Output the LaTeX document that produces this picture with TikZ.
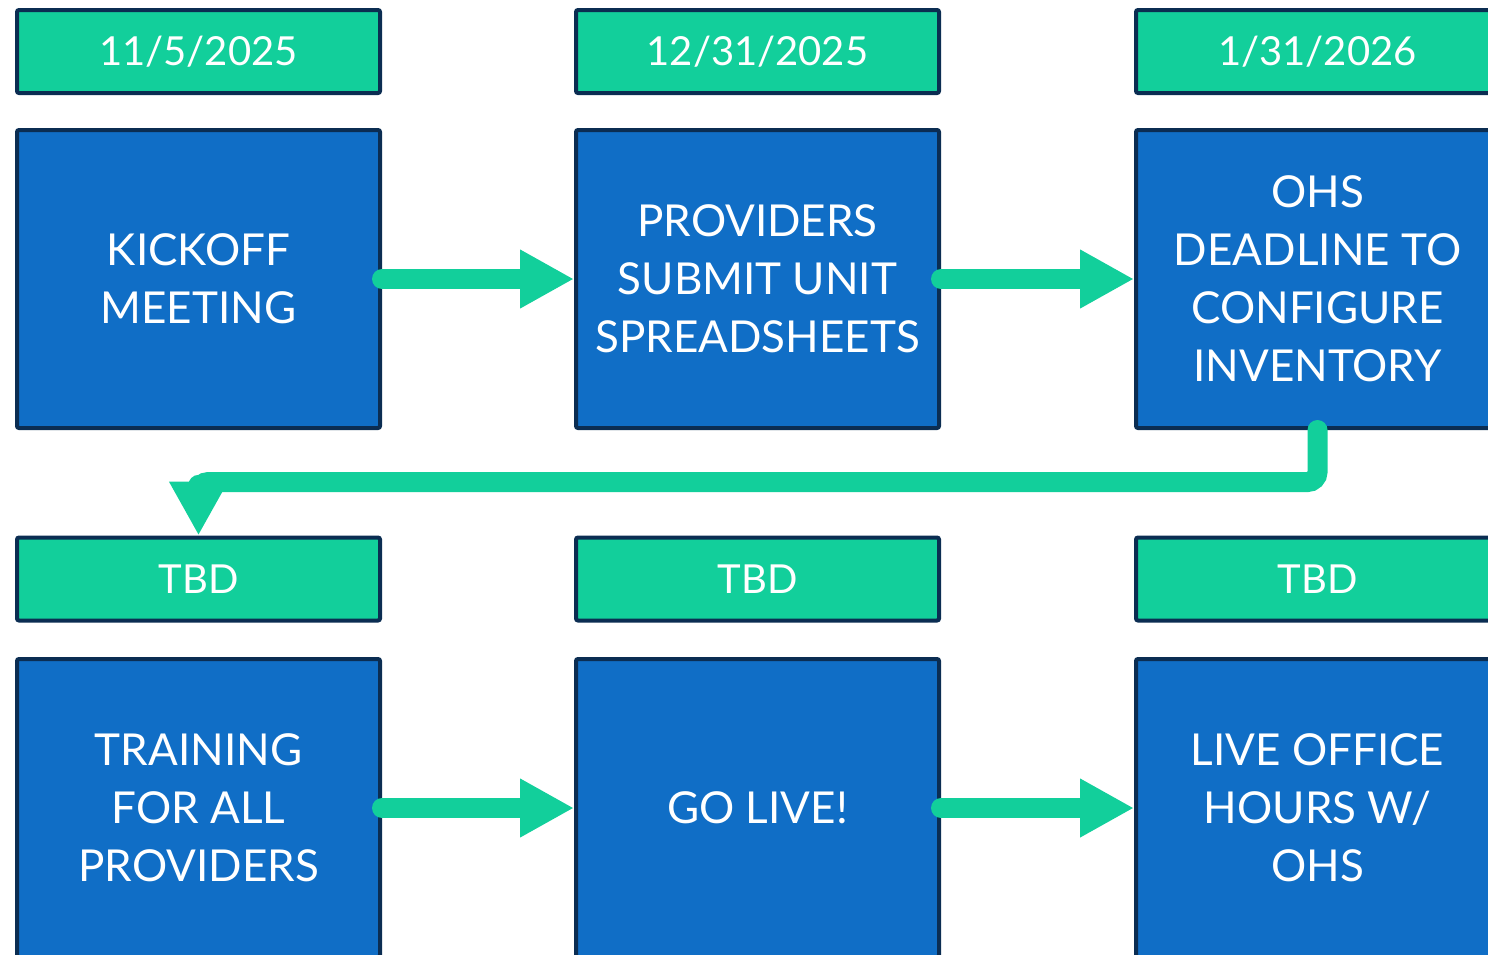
\documentclass[tikz,border=0pt]{standalone}
\usepackage{fontspec}
\setmainfont{Lato}
\usetikzlibrary{arrows.meta}
\definecolor{stepgreen}{HTML}{12CF9B}
\definecolor{stepblue}{HTML}{106EC6}
\definecolor{stepedge}{HTML}{0B2D52}
\begin{document}
\begin{tikzpicture}[x=1pt,y=-1pt,
  datebox/.style={draw=stepedge,fill=stepgreen,line width=4pt,rounded corners=2pt,
    minimum width=363pt,minimum height=83pt,inner sep=0pt,text=white,
    font=\fontsize{40}{48}\selectfont},
  taskbox/.style={draw=stepedge,fill=stepblue,line width=4pt,rounded corners=2pt,
    minimum width=363pt,minimum height=298pt,inner sep=0pt,text=white,align=center,
    font=\fontsize{44}{58}\selectfont},
  flow/.style={stepgreen,line width=20pt,line cap=round,-{Triangle[length=54pt,width=55pt]}}]
\useasboundingbox (0,0) rectangle (1488,954);
\clip (0,0) rectangle (1488,954);

% dates
\node[datebox] (date1) at (198.5,51.5) {11/5/2025};
\node[datebox] (date2) at (757.5,51.5) {12/31/2025};
\node[datebox] (date3) at (1317.5,51.5) {1/31/2026};
\foreach \x [count=\i from 4] in {198.5,757.5,1317.5}
\node[datebox] (date\i) at (\x,579) {TBD};

% steps
\node[taskbox] (kickoff) at (198.5,279) {KICKOFF\\MEETING};
\node[taskbox] (submit) at (757.5,279) {PROVIDERS\\SUBMIT UNIT\\SPREADSHEETS};
\node[taskbox] (config) at (1317.5,279) {OHS\\DEADLINE TO\\CONFIGURE\\INVENTORY};
\node[taskbox] (training) at (198.5,808) {TRAINING\\FOR ALL\\PROVIDERS};
\node[taskbox] (golive) at (757.5,808) {GO LIVE!};
\node[taskbox] (office) at (1317.5,808) {LIVE OFFICE\\HOURS W/\\OHS};

% arrows
\draw[flow] (kickoff.east) -- (submit.west);
\draw[flow] (submit.east) -- (config.west);
\draw[flow,rounded corners=10pt] (config.south) -- ++(0,52) -| (date4.north);
\draw[flow] (training.east) -- (golive.west);
\draw[flow] (golive.east) -- (office.west);
\end{tikzpicture}
\end{document}
